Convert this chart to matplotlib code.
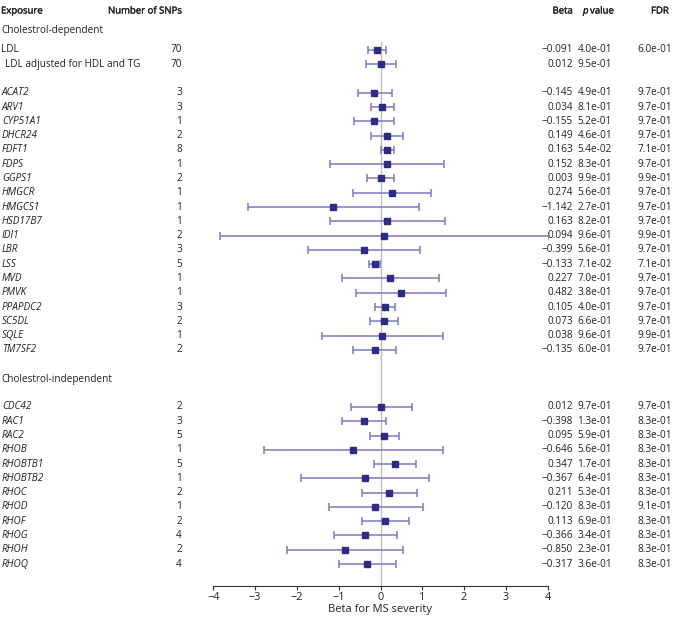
import numpy as np
import matplotlib
matplotlib.use("Agg")
import matplotlib.pyplot as plt
import matplotlib.patheffects as pe
from matplotlib.transforms import blended_transform_factory

plt.rcParams['font.family'] = ['Open Sans', 'DejaVu Sans']

# datos
exposicion_lipidos = ["LDL", "LDL adjusted for HDL and TG"]
snps_lipidos = [70, 70]
beta_lipidos = [-0.091, 0.012]
lo_lipidos = [-0.30, -0.34]
hi_lipidos = [0.12, 0.38]
p_lipidos = [4.0e-01, 9.5e-01]
fdr_lipidos = [6.0e-01, None]

genes_dep = ["ACAT2", "ARV1", "CYP51A1", "DHCR24", "FDFT1", "FDPS", "GGPS1",
             "HMGCR", "HMGCS1", "HSD17B7", "IDI1", "LBR", "LSS", "MVD", "PMVK",
             "PPAPDC2", "SC5DL", "SQLE", "TM7SF2"]
snps_dep = [3, 3, 1, 2, 8, 1, 2, 1, 1, 1, 2, 3, 5, 1, 1, 3, 2, 1, 2]
beta_dep = [-0.145, 0.034, -0.155, 0.149, 0.163, 0.152, 0.003, 0.274, -1.142,
            0.163, 0.094, -0.399, -0.133, 0.227, 0.482, 0.105, 0.073, 0.038, -0.135]
lo_dep = [-0.55, -0.23, -0.64, -0.23, 0.00, -1.21, -0.32, -0.65, -3.18, -1.21,
          -3.84, -1.73, -0.27, -0.92, -0.59, -0.14, -0.26, -1.40, -0.65]
hi_dep = [0.27, 0.32, 0.33, 0.53, 0.33, 1.52, 0.33, 1.20, 0.91, 1.55,
          4.04, 0.95, -0.01, 1.40, 1.56, 0.35, 0.41, 1.49, 0.38]
p_dep = [4.9e-01, 8.1e-01, 5.2e-01, 4.6e-01, 5.4e-02, 8.3e-01, 9.9e-01, 5.6e-01,
         2.7e-01, 8.2e-01, 9.6e-01, 5.6e-01, 7.1e-02, 7.0e-01, 3.8e-01, 4.0e-01,
         6.6e-01, 9.6e-01, 6.0e-01]
fdr_dep = [9.7e-01, 9.7e-01, 9.7e-01, 9.7e-01, 7.1e-01, 9.7e-01, 9.9e-01, 9.7e-01,
           9.7e-01, 9.7e-01, 9.9e-01, 9.7e-01, 7.1e-01, 9.7e-01, 9.7e-01, 9.7e-01,
           9.7e-01, 9.9e-01, 9.7e-01]

genes_indep = ["CDC42", "RAC1", "RAC2", "RHOB", "RHOBTB1", "RHOBTB2", "RHOC",
               "RHOD", "RHOF", "RHOG", "RHOH", "RHOQ"]
snps_indep = [2, 3, 5, 1, 5, 1, 2, 1, 2, 4, 2, 4]
beta_indep = [0.012, -0.398, 0.095, -0.646, 0.347, -0.367, 0.211, -0.120,
              0.113, -0.366, -0.850, -0.317]
lo_indep = [-0.71, -0.92, -0.25, -2.79, -0.15, -1.89, -0.45, -1.24, -0.45,
            -1.12, -2.24, -1.00]
hi_indep = [0.75, 0.12, 0.45, 1.49, 0.85, 1.16, 0.88, 1.01, 0.68, 0.39, 0.55, 0.37]
p_indep = [9.7e-01, 1.3e-01, 5.9e-01, 5.6e-01, 1.7e-01, 6.4e-01, 5.3e-01,
           8.3e-01, 6.9e-01, 3.4e-01, 2.3e-01, 3.6e-01]
fdr_indep = [9.7e-01, 8.3e-01, 8.3e-01, 8.3e-01, 8.3e-01, 8.3e-01, 8.3e-01,
             9.1e-01, 8.3e-01, 8.3e-01, 8.3e-01, 8.3e-01]

ticks_x = [-4, -3, -2, -1, 0, 1, 2, 3, 4]

# Posiciones de las filas (unidades de fila)
filas_lip = np.arange(len(exposicion_lipidos))
filas_dep = 3 + np.arange(len(genes_dep))
filas_indep = 25 + np.arange(len(genes_indep))

W, H = 673, 617
fig = plt.figure(figsize=(W / 100, H / 100), dpi=100)

# eje del forest plot: x=-4 en 213 px, x=4 en 548 px
ax = fig.add_axes([213.3 / W, 1 - 586 / H, (547.7 - 213.3) / W, (586 - 42) / H])
ax.set_xlim(-4, 4)
ax.set_ylim(37.54, -0.56)

color_linea = '#7b79c2'
color_punto = '#2e2b85'

ax.axvline(0, color='#bdbdbd', lw=1, zorder=0)

def dibujar(filas, b, lo, hi):
    b = np.array(b)
    err = [b - np.array(lo), np.array(hi) - b]
    ax.errorbar(b, filas, xerr=err, fmt='s', color=color_punto, ms=4.3,
                ecolor=color_linea, elinewidth=1.1, capsize=3, capthick=1.1)

dibujar(filas_lip, beta_lipidos, lo_lipidos, hi_lipidos)
dibujar(filas_dep, beta_dep, lo_dep, hi_dep)
dibujar(filas_indep, beta_indep, lo_indep, hi_indep)

for s in ['top', 'right', 'left']:
    ax.spines[s].set_visible(False)
ax.spines['bottom'].set_color('#333333')
ax.spines['bottom'].set_linewidth(0.8)
ax.set_yticks([])
ax.set_xticks(ticks_x)
ax.tick_params(axis='x', length=3, width=0.8, color='#333333', labelsize=7.8,
               pad=1, labelcolor='#222222')
ax.set_xlabel("Beta for MS severity", fontsize=8.0, labelpad=1, color='#222222')

# Columnas de texto
tr = blended_transform_factory(fig.transFigure, ax.transData)
fs = 7.2
col = '#222222'

def px(x):
    return x / W

def fmt_beta(v):
    return ("%.3f" % v).replace("-", "\u2212")

def fmt_p(v):
    return "%.1e" % v

def columnas(filas, nombres, snps, b, p, fdr, italica, sangria=2):
    for i, y in enumerate(filas):
        ax.text(px(sangria if not isinstance(sangria, list) else sangria[i]), y,
                nombres[i], transform=tr, ha='left', va='center', fontsize=fs,
                color=col, style='italic' if italica else 'normal')
        ax.text(px(182), y, str(snps[i]), transform=tr, ha='right', va='center',
                fontsize=fs, color=col)
        ax.text(px(573), y, fmt_beta(b[i]), transform=tr, ha='right', va='center',
                fontsize=fs, color=col)
        ax.text(px(612), y, fmt_p(p[i]), transform=tr, ha='right', va='center',
                fontsize=fs, color=col)
        if fdr[i] is not None:
            ax.text(px(672), y, fmt_p(fdr[i]), transform=tr, ha='right',
                    va='center', fontsize=fs, color=col)

columnas(filas_lip, exposicion_lipidos, snps_lipidos, beta_lipidos, p_lipidos,
         fdr_lipidos, False, sangria=[1, 5])
columnas(filas_dep, genes_dep, snps_dep, beta_dep, p_dep, fdr_dep, True)
columnas(filas_indep, genes_indep, snps_indep, beta_indep, p_indep, fdr_indep, True)

# Titulos de grupo
ax.text(px(1), -1.35, "Cholestrol-dependent", transform=tr, ha='left',
        va='center', fontsize=fs, color=col)
ax.text(px(1), 23.1, "Cholestrol-independent", transform=tr, ha='left',
        va='center', fontsize=fs, color=col)

# Encabezados (semi-negrita simulada con un trazo fino)
yh = 1 - 11 / H
semi = [pe.withStroke(linewidth=0.25, foreground=col)]
hkw = dict(fontsize=6.9, color=col, va='center', path_effects=semi)
fig.text(px(1), yh, "Exposure", ha='left', **hkw)
fig.text(px(108), yh, "Number of SNPs", ha='left', **hkw)
fig.text(px(573), yh, "Beta", ha='right', **hkw)
fig.text(px(583), yh, "p", ha='left', style='italic', **hkw)
fig.text(px(590), yh, "value", ha='left', **hkw)
fig.text(px(651), yh, "FDR", ha='left', **hkw)

fig.savefig("out.png", dpi=100)
